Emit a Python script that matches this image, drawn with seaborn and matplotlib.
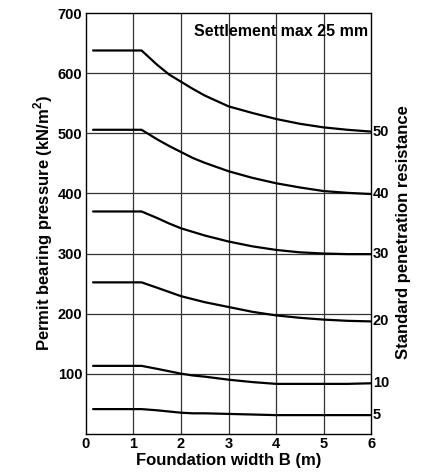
import matplotlib
matplotlib.use("Agg")
import matplotlib.pyplot as plt
import seaborn as sns
import pandas as pd

# Foundation width B (m)
width = [0.15, 1.17, 1.5, 1.75, 2.0, 2.25, 2.5, 3.0, 3.5, 4.0, 4.5, 5.0, 5.5, 6.0]
# Permit bearing pressure (kN/m2) for each SPT N value
n50 = [638, 638, 614, 598, 586, 574, 563, 545, 534, 524, 516, 510, 506, 503]
n40 = [506, 506, 490, 479, 469, 459, 451, 437, 426, 417, 410, 404, 401, 399]
n30 = [370, 370, 359, 350, 342, 336, 330, 320, 312, 306, 302, 300, 299, 299]
n20 = [252, 252, 243, 236, 229, 224, 219, 211, 203, 197, 193, 190, 188, 187]
n10 = [113, 113, 108, 104, 100, 97, 95, 90, 86, 83, 83, 83, 83, 84]
n5 = [41, 41, 39, 37, 35, 34, 34, 33, 32, 31, 31, 31, 31, 31]
n_labels = ["50", "40", "30", "20", "10", "5"]
x_ticks = [0, 1, 2, 3, 4, 5, 6]
y_ticks = [100, 200, 300, 400, 500, 600, 700]

series = [n50, n40, n30, n20, n10, n5]
rows = []
for lab, vals in zip(n_labels, series):
    for x, v in zip(width, vals):
        rows.append({"B": x, "q": v, "N": lab})
df = pd.DataFrame(rows)

sns.set_style("white")
plt.rcParams["font.family"] = ["Liberation Sans", "DejaVu Sans"]
plt.rcParams["text.color"] = "black"
plt.rcParams["axes.labelcolor"] = "black"
plt.rcParams["xtick.color"] = "black"
plt.rcParams["ytick.color"] = "black"
plt.rcParams["mathtext.fontset"] = "custom"
plt.rcParams["mathtext.bf"] = "Liberation Sans:bold"
plt.rcParams["mathtext.rm"] = "Liberation Sans"

fig = plt.figure(figsize=(4.32, 4.73), dpi=100)
ax = fig.add_axes([0.199, 0.083, 0.660, 0.889])

for xv in [1, 2, 3, 4, 5]:
    ax.axvline(xv, color="#333333", lw=0.9, zorder=1)
for yv in [100, 200, 300, 400, 500, 600]:
    ax.axhline(yv, color="#333333", lw=0.9, zorder=1)

sns.lineplot(data=df, x="B", y="q", hue="N", palette=["black"] * 6,
             legend=False, lw=1.6, ax=ax, zorder=3, sort=False)

ax.set_xlim(0, 6)
ax.set_ylim(0, 700)
ax.set_xticks(x_ticks)
ax.set_xticklabels([str(t) for t in x_ticks], fontweight="bold", fontsize=10.5)
ax.set_yticks(y_ticks)
ax.set_yticklabels([str(t) for t in y_ticks], fontweight="bold", fontsize=10.5)
ax.tick_params(length=0, pad=2.5)
ax.set_xlabel("Foundation width B (m)", fontweight="bold", fontsize=12, labelpad=1)
ax.set_ylabel("Permit bearing pressure (kN/m$^\\mathbf{2}$)", fontweight="bold",
              fontsize=12, labelpad=2)
for s in ax.spines.values():
    s.set_color("black")
    s.set_linewidth(1.0)

for lab, vals in zip(n_labels, series):
    ax.text(6.04, vals[-1], lab, fontweight="bold", fontsize=10.5,
            va="center", ha="left", clip_on=False)

ax.text(5.93, 670, "Settlement max 25 mm", fontweight="bold", fontsize=11.5,
        ha="right", va="center")

fig.text(0.935, 0.51, "Standard penetration resistance", rotation=90,
         fontweight="bold", fontsize=12, ha="center", va="center")

fig.savefig("out.png", dpi=100, facecolor="white")
